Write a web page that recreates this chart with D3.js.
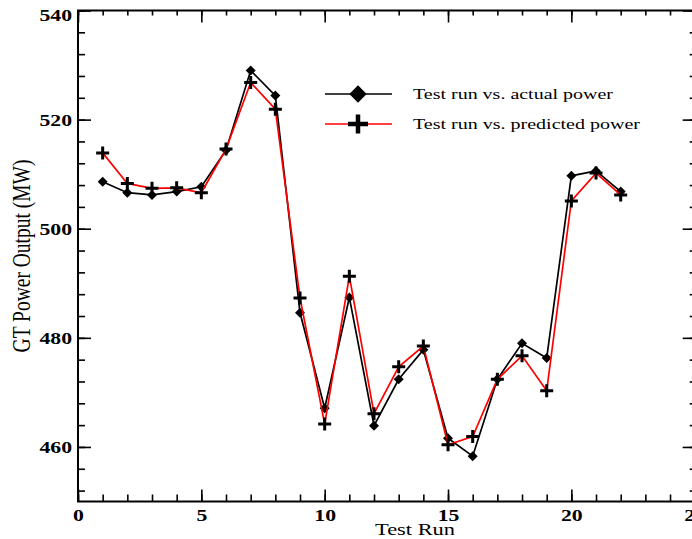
<!DOCTYPE html>
<html><head><meta charset="utf-8">
<script src="https://cdn.jsdelivr.net/npm/d3@7"></script>
<style>body{margin:0;background:#fff} svg{display:block}</style>
</head><body>
<svg id="c" width="692" height="539"></svg>
<script>
const testRuns = d3.range(1, 23);
const actualPower = [508.6, 506.6, 506.2, 506.8, 507.7, 514.4, 529.0, 524.4, 484.6, 467.1, 487.4, 463.9, 472.4, 477.8, 461.6, 458.3, 472.4, 479.0, 476.3, 509.7, 510.6, 506.8];
const predictedPower = [513.9, 508.3, 507.4, 507.5, 506.6, 514.6, 526.8, 521.9, 487.3, 464.2, 491.3, 466.1, 474.7, 478.5, 460.4, 461.9, 472.4, 476.7, 470.3, 505.1, 510.2, 506.2];
const xTicksMajor = [0, 5, 10, 15, 20, 25];
const xTicksMinor = d3.range(0, 26, 1);
const yTicksMajor = [460, 480, 500, 520, 540];
const yTicksMinor = d3.range(452, 541, 4);
const legendLabels = ["Test run vs. actual power", "Test run vs. predicted power"];
const xTitle = "Test Run";
const yTitle = "GT Power Output (MW)";

const SX = 1.28; // horizontal text stretch seen in the reference
const font = "'Liberation Serif','Times New Roman',serif";
const L = 78, R = 694.7, T = 10.5, B = 501.5;
const x = d3.scaleLinear().domain([0, 25]).range([L, R]);
const y = d3.scaleLinear().domain([450, 540]).range([B, T]);
const svg = d3.select("#c");

function styleAxis(g) {
  g.select(".domain").remove();
  g.selectAll("line").attr("stroke", "#000").attr("stroke-width", 1.6);
  g.selectAll("text").attr("fill", "#000").attr("font-family", font)
    .attr("font-size", 17).attr("font-weight", "bold");
}

// bottom
svg.append("g").attr("transform", `translate(0,${B})`)
  .call(d3.axisBottom(x).tickValues(xTicksMinor).tickSizeInner(-7).tickSizeOuter(0).tickFormat(""))
  .call(styleAxis);
const bx = svg.append("g").attr("transform", `translate(0,${B})`)
  .call(d3.axisBottom(x).tickValues(xTicksMajor).tickSizeInner(-12).tickSizeOuter(0).tickPadding(7).tickFormat(d3.format("d")))
  .call(styleAxis);
bx.selectAll("text").attr("transform", `scale(${SX},1)`);
// top
svg.append("g").attr("transform", `translate(0,${T})`)
  .call(d3.axisTop(x).tickValues(xTicksMinor).tickSizeInner(-5).tickSizeOuter(0).tickFormat(""))
  .call(styleAxis);
svg.append("g").attr("transform", `translate(0,${T})`)
  .call(d3.axisTop(x).tickValues(xTicksMajor).tickSizeInner(-12).tickSizeOuter(0).tickFormat(""))
  .call(styleAxis);
// left
svg.append("g").attr("transform", `translate(${L},0)`)
  .call(d3.axisLeft(y).tickValues(yTicksMinor).tickSizeInner(-7).tickSizeOuter(0).tickFormat(""))
  .call(styleAxis);
const ly = svg.append("g").attr("transform", `translate(${L},0)`)
  .call(d3.axisLeft(y).tickValues(yTicksMajor).tickSizeInner(-13).tickSizeOuter(0).tickPadding(6).tickFormat(d3.format("d")))
  .call(styleAxis);
ly.selectAll("text").attr("x", -6 / SX).attr("transform", `scale(${SX},1)`)
  .attr("dy", d => d === 540 ? "0.6em" : "0.32em");
// right
svg.append("g").attr("transform", `translate(${R},0)`)
  .call(d3.axisRight(y).tickValues(yTicksMinor).tickSizeInner(-5).tickSizeOuter(0).tickFormat(""))
  .call(styleAxis);
svg.append("g").attr("transform", `translate(${R},0)`)
  .call(d3.axisRight(y).tickValues(yTicksMajor).tickSizeInner(-12).tickSizeOuter(0).tickFormat(""))
  .call(styleAxis);

// frame
svg.append("rect").attr("x", L).attr("y", T).attr("width", R - L).attr("height", B - T)
  .attr("fill", "none").attr("stroke", "#000").attr("stroke-width", 2);

// titles
svg.append("text").attr("transform", `translate(415,535) scale(${SX},1)`)
  .attr("text-anchor", "middle").attr("font-family", font).attr("font-size", 17.5).text(xTitle);
svg.append("text").attr("transform", `translate(30,${(T + B) / 2}) rotate(-90) scale(1,${SX})`)
  .attr("text-anchor", "middle").attr("font-family", font).attr("font-size", 19.5).text(yTitle);

// series
const line = d3.line().x((d, i) => x(testRuns[i])).y(d => y(d));
svg.append("path").datum(actualPower).attr("d", line).attr("fill", "none")
  .attr("stroke", "#000").attr("stroke-width", 1.7);
const diamond = d3.symbol().type(d3.symbolSquare).size(50);
svg.append("g").selectAll("path").data(actualPower).join("path")
  .attr("d", diamond)
  .attr("transform", (d, i) => `translate(${x(testRuns[i])},${y(d)}) rotate(45)`)
  .attr("fill", "#000");
svg.append("path").datum(predictedPower).attr("d", line).attr("fill", "none")
  .attr("stroke", "#ff0000").attr("stroke-width", 1.7);
svg.append("g").selectAll("path").data(predictedPower).join("path")
  .attr("d", "M-6.5,0H6.5M0,-6.5V6.5")
  .attr("transform", (d, i) => `translate(${x(testRuns[i])},${y(d)})`)
  .attr("stroke", "#000").attr("stroke-width", 3).attr("fill", "none");

// legend
const lg = svg.append("g");
const legRows = [
  {y: 94, color: "#000", label: legendLabels[0], len: 200, marker: "diamond"},
  {y: 124, color: "#ff0000", label: legendLabels[1], len: 227, marker: "cross"}
];
legRows.forEach(r => {
  lg.append("line").attr("x1", 325).attr("x2", 392).attr("y1", r.y).attr("y2", r.y)
    .attr("stroke", r.color).attr("stroke-width", 1.7);
  if (r.marker === "diamond") {
    lg.append("path").attr("d", d3.symbol().type(d3.symbolSquare).size(150)())
      .attr("transform", `translate(358,${r.y}) rotate(45)`).attr("fill", "#000");
  } else {
    lg.append("path").attr("d", "M-10,0H10M0,-9.5V9.5")
      .attr("transform", `translate(358,${r.y})`).attr("stroke", "#000").attr("stroke-width", 4.5);
  }
  lg.append("text").attr("x", 413).attr("y", r.y + 5).attr("font-family", font).attr("font-size", 15)
    .attr("textLength", r.len).attr("lengthAdjust", "spacingAndGlyphs").text(r.label);
});
</script>
</body></html>
